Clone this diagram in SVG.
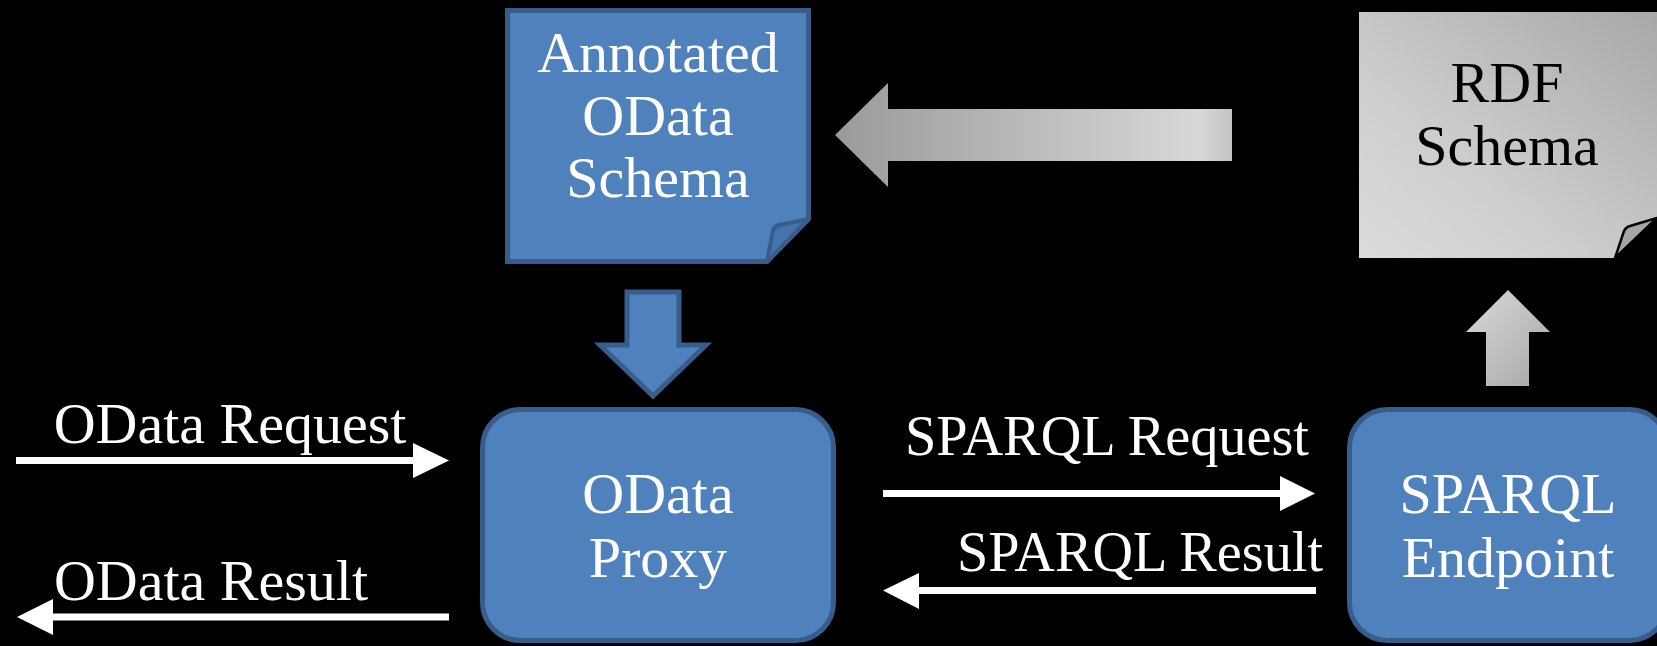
<svg xmlns="http://www.w3.org/2000/svg" width="1657" height="646" viewBox="0 0 1657 646">
  <defs>
    <style>
      .lbl { font-family: "Liberation Serif", "DejaVu Serif", serif; font-size: 58px; fill: #ffffff; text-anchor: middle; }
      .dark { fill: #000000; }
      .blue { fill: #4f81bd; stroke: #385d8a; stroke-width: 5; stroke-linejoin: miter; }
      .wline { stroke: #ffffff; stroke-width: 7; fill: none; }
      .whead { fill: #ffffff; }
    </style>
    <linearGradient id="gArrowL" x1="0" y1="0" x2="1" y2="0">
      <stop offset="0" stop-color="#9a9a9a"/>
      <stop offset="0.92" stop-color="#d8d8d8"/>
      <stop offset="1" stop-color="#c2c2c2"/>
    </linearGradient>
    <linearGradient id="gArrowU" x1="0" y1="0" x2="1" y2="1">
      <stop offset="0" stop-color="#dadada"/>
      <stop offset="1" stop-color="#a6a6a6"/>
    </linearGradient>
    <linearGradient id="gNote" x1="1" y1="0" x2="0" y2="1">
      <stop offset="0" stop-color="#a8a8a8"/>
      <stop offset="0.6" stop-color="#cccccc"/>
      <stop offset="1" stop-color="#dcdcdc"/>
    </linearGradient>
  </defs>
  <rect x="0" y="0" width="1657" height="646" fill="#000000"/>

  <g id="connectors">
    <!-- RDF -> Annotated (big gray arrow) -->
    <polygon points="835,135 888,83 888,109 1232,109 1232,161 888,161 888,187" fill="url(#gArrowL)"/>
    <!-- SPARQL Endpoint -> RDF Schema (gray up arrow) -->
    <polygon points="1508,290 1550,332 1529,332 1529,386 1486,386 1486,332 1466,332" fill="url(#gArrowU)"/>
    <!-- Annotated -> Proxy (blue down arrow) -->
    <polygon class="blue" points="627,292 679,292 679,345 706,345 653,396 600,345 627,345"/>
    <!-- OData Request -->
    <line class="wline" x1="16" y1="460.5" x2="415" y2="460.5"/>
    <polygon class="whead" points="413,443 449,460.5 413,478"/>
    <text class="lbl" x="230" y="443">OData Request</text>
    <!-- OData Result -->
    <line class="wline" x1="449" y1="617" x2="51" y2="617"/>
    <polygon class="whead" points="53,599 17,617 53,635"/>
    <text class="lbl" x="211" y="600">OData Result</text>
    <!-- SPARQL Request -->
    <line class="wline" x1="883" y1="493.5" x2="1282" y2="493.5"/>
    <polygon class="whead" points="1280,476 1315,493.5 1280,511"/>
    <text class="lbl" x="1107" y="455" textLength="404" lengthAdjust="spacingAndGlyphs">SPARQL Request</text>
    <!-- SPARQL Result -->
    <line class="wline" x1="1316" y1="590.5" x2="917" y2="590.5"/>
    <polygon class="whead" points="919,573 883,590.5 919,609"/>
    <text class="lbl" x="1140" y="571" textLength="366" lengthAdjust="spacingAndGlyphs">SPARQL Result</text>
  </g>

  <g id="annotated-odata-schema">
    <path class="blue" d="M507.5,10.5 L808.5,10.5 L808.5,219 L767,261.5 L507.5,261.5 Z"/>
    <path d="M767,261.5 L773,230 Q775,226 779,225 L808.5,219 Z" fill="#4573ab" stroke="#385d8a" stroke-width="4" stroke-linejoin="round"/>
    <text class="lbl" x="658" y="72">Annotated</text>
    <text class="lbl" x="658" y="135">OData</text>
    <text class="lbl" x="658" y="197">Schema</text>
  </g>

  <g id="rdf-schema">
    <path d="M1359,12 L1657,12 L1657,218 L1615,258 L1359,258 Z" fill="url(#gNote)"/>
    <path d="M1615,258 L1624,231 Q1626,227 1630,226 L1657,218 Z" fill="#a6a6a6" stroke="#000000" stroke-width="2.5" stroke-linejoin="round"/>
    <text class="lbl dark" x="1507" y="102">RDF</text>
    <text class="lbl dark" x="1507" y="165">Schema</text>
  </g>

  <g id="odata-proxy">
    <rect class="blue" x="482.5" y="409.5" width="351" height="231" rx="38" ry="38"/>
    <text class="lbl" x="658" y="513">OData</text>
    <text class="lbl" x="658" y="577">Proxy</text>
  </g>

  <g id="sparql-endpoint">
    <rect class="blue" x="1349.5" y="409.5" width="318" height="231" rx="38" ry="38"/>
    <text class="lbl" x="1508" y="513">SPARQL</text>
    <text class="lbl" x="1508" y="577">Endpoint</text>
  </g>
</svg>
